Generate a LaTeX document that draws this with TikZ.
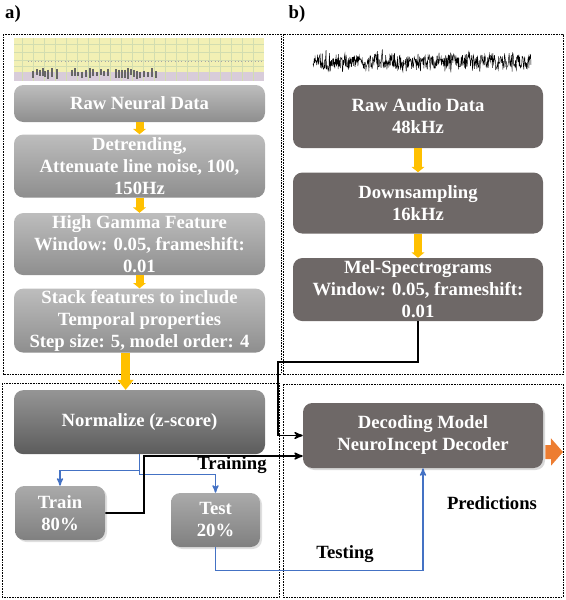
\documentclass[tikz,border=0pt]{standalone}
\usepackage{fontspec}
\setmainfont{Liberation Serif}
\usetikzlibrary{
        arrows,
        arrows.meta,
        positioning,
        shadows
    }
\definecolor{ltop}{HTML}{BDBDBD}
\definecolor{lbot}{HTML}{8E8E8E}
\definecolor{ntop}{HTML}{959595}
\definecolor{nbot}{HTML}{5C5C5C}
\definecolor{rgray}{HTML}{6E6867}
\definecolor{lblue}{HTML}{4472C4}
\definecolor{arry}{HTML}{FFC000}
\definecolor{arro}{HTML}{ED7D31}
\definecolor{nyel}{HTML}{F2F0B4}
\definecolor{npur}{HTML}{D8CCDA}
\definecolor{ngrid}{HTML}{D2DDB0}
\tikzset{>=stealth',shorten >=0pt}
\tikzset{
  lbox/.style={rectangle,rounded corners=7pt,top color=ltop,bottom color=lbot,
    text=white,align=center,inner sep=0pt,minimum width=188.25pt},
  nbox/.style={lbox,top color=ntop,bottom color=nbot},
  sbox/.style={lbox,minimum width=67.5pt,minimum height=40.5pt,
    top color=ltop!90!black,bottom color=lbot!90!black,
    drop shadow={shadow xshift=1.5pt,shadow yshift=-1.5pt,opacity=.25}},
  rbox/.style={rectangle,rounded corners=7pt,fill=rgray,text=white,align=center,
    inner sep=0pt,minimum width=187.5pt,minimum height=47.25pt},
  panel/.style={draw,line width=0.5pt,dash pattern=on 1.2pt off 0.8pt},
  bline/.style={draw=lblue,line width=1pt},
  kline/.style={draw=black,line width=1.2pt},
  yarr/.style={draw=arry,line width=6pt,-{Triangle[width=9.5pt,length=4pt]}},
  yarrb/.style={draw=arry,line width=6.5pt,-{Triangle[width=11.5pt,length=7.5pt]}},
  oarr/.style={draw=arro,line width=10.5pt,-{Triangle[width=20pt,length=9pt]}},
  lab/.style={text=black}
}

\begin{document}
\begin{tikzpicture}[x=0.75pt,y=-0.75pt,
    every node/.style={font=\bfseries\fontsize{14}{16.5}\selectfont}]
  \useasboundingbox (0,0) rectangle (566,600);
  % panels
  \draw[panel] (3,34) rectangle (281,374);
  \draw[panel] (283,34) rectangle (563,374);
  \draw[panel] (2,383) rectangle (279,597);
  \draw[panel] (283,384) rectangle (563,597);
  \node[lab] (pa) at (13,14) {a)};
  \node[lab] (pb) at (297,14) {b)};

  % neural recording
  \fill[nyel] (14,38) rectangle (264,81);
  \fill[npur] (14,72) rectangle (264,81);
  \foreach \x in {22,33,...,262}
    \draw[ngrid,line width=0.3pt] (\x,38) -- (\x,81);
  \foreach \y in {44,52,60,66}
    \draw[ngrid,line width=0.3pt] (14,\y) -- (264,\y);
  \draw[gray!70,dotted,line width=0.5pt] (28,61) -- (262,61);
  \pgfmathsetseed{3}
  \foreach \x in {33,37,40,43,45,48,52,57,72,75,78,82,86,90,93,97,101,104,108,
                  116,119,122,125,128,131,134,137,140,144,148,152,156}
    \draw[black!60,line width=0.9pt] (\x,{70+2*rand}) -- (\x,{77+2*rand});

  % audio waveform
  \pgfmathsetseed{7}
  \draw[line width=0.35pt] plot[domain=313:531,samples=520]
    (\x,{62+8*rand+8*rand*rand*rand});

  % panel a
  \node[lbox,minimum height=27.75pt] (a1) at (139.5,103.5) {Raw Neural Data};
  \node[lbox,minimum height=47.25pt,below=9pt of a1] (a2)
    {Detrending,\\Attenuate line noise, 100,\\150Hz};
  \node[lbox,minimum height=46.5pt,below=11.25pt of a2] (a3)
    {High Gamma Feature\\Window: 0.05, frameshift:\\0.01};
  \node[lbox,minimum height=48pt,below=9.75pt of a3] (a4)
    {Stack features to include\\Temporal properties\\Step size: 5, model order: 4};
  \draw[yarr] (a1.south) -- (a2.north);
  \draw[yarr] (a2.south) -- (a3.north);
  \draw[yarr] (a3.south) -- (a4.north);

  % panel b
  \node[rbox] (b1) at (418,116.5) {Raw Audio Data\\48kHz};
  \node[rbox,minimum height=45.75pt,below=18pt of b1] (b2) {Downsampling\\16kHz};
  \node[rbox,below=18pt of b2] (b3) {Mel-Spectrograms\\Window: 0.05, frameshift:\\0.01};
  \draw[yarr] (b1.south) -- (b2.north);
  \draw[yarr] (b2.south) -- (b3.north);

  % split and decoder
  \node[nbox,minimum height=48pt,below=27.75pt of a4] (n1) {Normalize (z-score)};
  \draw[yarrb] ([xshift=-10.4pt]a4.south) -- ([xshift=-10.4pt]n1.north);
  \node[sbox] (tr) at (60,513) {Train\\80\%};
  \node[sbox,minimum width=66.75pt] (te) at (215.5,520) {Test\\20\%};
  \node[rbox,minimum width=180pt,minimum height=48.75pt,
    drop shadow={shadow xshift=1.5pt,shadow yshift=-1.5pt,opacity=.3}] (dec)
    at (423,435.5) {Decoding Model\\NeuroIncept Decoder};
  \coordinate (m1) at (278,362);
  \coordinate (t1) at (144,456);
  \coordinate (o1) at (563,452);

  \draw[bline,->] (n1.south) -- ++(0,20) -| (te.north);
  \draw[bline,->] ([yshift=-12pt]n1.south) -| (tr.north);
  \draw[kline,->] (tr.east) -| (t1) -- ([yshift=-15.4pt]dec.west);
  \draw[kline,->] (b3.south) |- (m1) |- (dec.west);
  \draw[bline,->] (te.south) -- ++(0,23) -| (dec.south);
  \draw[oarr] ([xshift=1.5pt,yshift=-12.4pt]dec.east) -- (o1);

  \node[lab] (l1) at (232,465) {Training};
  \node[lab] (l2) at (345,554) {Testing};
  \node[lab] (l3) at (492,503) {Predictions};
\end{tikzpicture}
\end{document}
